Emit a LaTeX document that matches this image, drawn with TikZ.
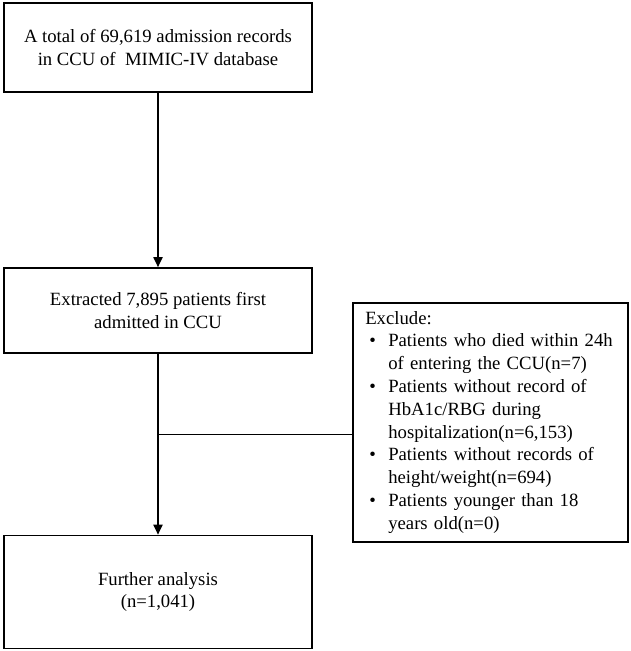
\documentclass[tikz,border=0pt]{standalone}
\usepackage{fontspec}
\setmainfont{Liberation Serif}
\usetikzlibrary{arrows.meta}
\begin{document}
\begin{tikzpicture}[x=1pt,y=-1pt,
  box/.style={draw, line width=1.6pt, inner sep=0pt, align=center, font=\fontsize{18.7}{22.8}\selectfont},
  flow/.style={line width=1.8pt, -{Triangle[width=9pt,length=10pt]}},
  side/.style={line width=0.9pt}]
\useasboundingbox (0,0) rectangle (630,651);
\node[box, minimum width=308pt, minimum height=89pt] (a) at (158,47.5)
  {A total of 69,619 admission records\\in CCU of \ MIMIC-IV database};
\node[box, minimum width=308pt, minimum height=85pt] (b) at (158,310.5)
  {Extracted 7,895 patients first\\admitted in CCU};
\node[box, minimum width=308pt, minimum height=113pt] (c) at (158,592)
  {Further analysis\\(n=1,041)};
\node[box, anchor=north west, align=left, text width=250pt, inner xsep=12.5pt,
      minimum width=275pt, minimum height=239pt] (e) at (352,302)
  {Exclude:\\
   \hspace*{4pt}\makebox[19pt][l]{•}Patients who died within 24h\\
   \hspace*{23pt}of entering the CCU(n=7)\\
   \hspace*{4pt}\makebox[19pt][l]{•}Patients without record of\\
   \hspace*{23pt}HbA1c/RBG during\\
   \hspace*{23pt}hospitalization(n=6,153)\\
   \hspace*{4pt}\makebox[19pt][l]{•}Patients without records of\\
   \hspace*{23pt}height/weight(n=694)\\
   \hspace*{4pt}\makebox[19pt][l]{•}Patients younger than 18\\
   \hspace*{23pt}years old(n=0)};
\coordinate (j) at (158,434);
\draw[flow] (a) -- (b);
\draw[flow] (b) -- (c);
\draw[side] (j) -- (e.west |- j);
\end{tikzpicture}
\end{document}
